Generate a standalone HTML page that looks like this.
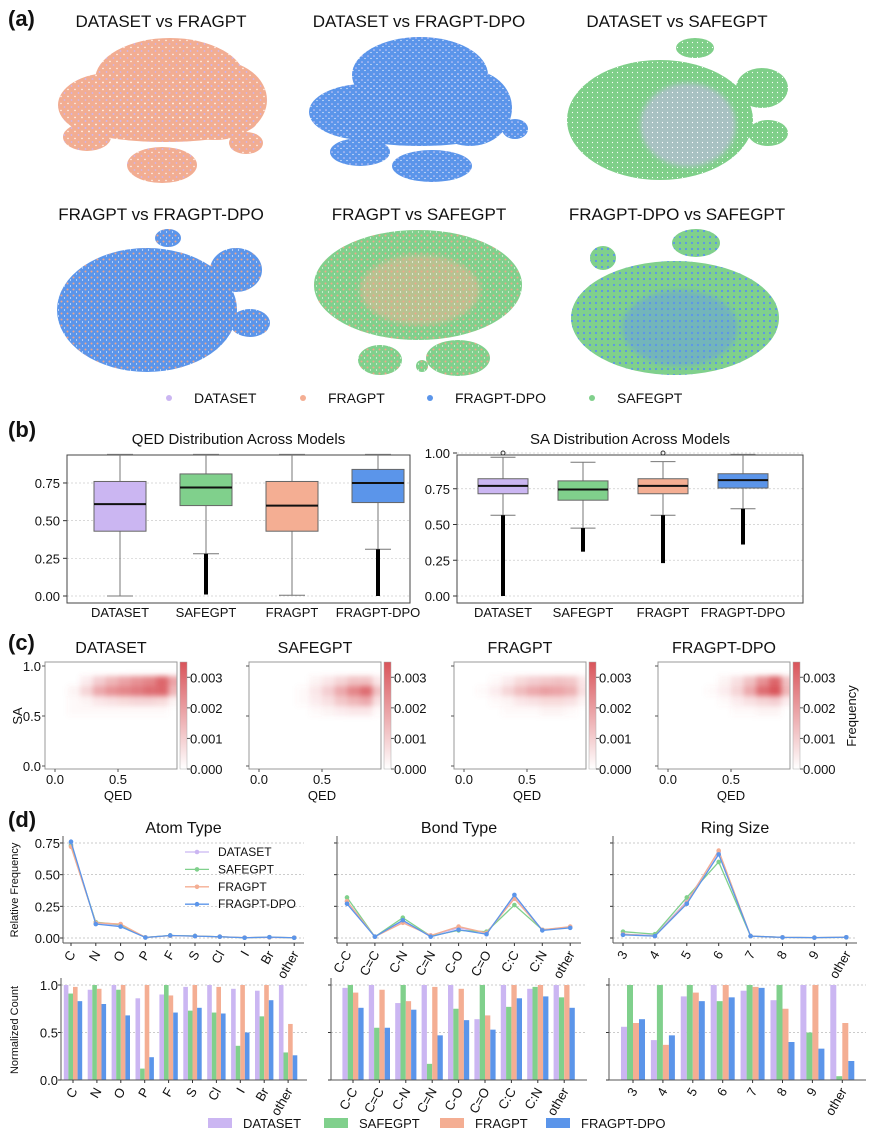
<!DOCTYPE html>
<html><head><meta charset="utf-8"><style>
html,body{margin:0;padding:0;background:#fff;}
svg{display:block;font-family:"Liberation Sans",sans-serif;}
</style></head><body>
<svg id="fig" width="870" height="1135" viewBox="0 0 870 1135" xmlns="http://www.w3.org/2000/svg">
<defs>
<filter id="blur3" x="-30%" y="-30%" width="160%" height="160%"><feGaussianBlur stdDeviation="2.6"/></filter>
<linearGradient id="cbar" x1="0" y1="1" x2="0" y2="0"><stop offset="0" stop-color="#ffffff"/><stop offset="1" stop-color="#d9545a"/></linearGradient>
<pattern id="pat-dot-lav" width="7" height="7" patternUnits="userSpaceOnUse"><circle cx="1.5" cy="2" r="0.9" fill="#cbb6f2"/><circle cx="5" cy="5.5" r="0.7" fill="#fff"/></pattern>
<pattern id="pat-blue-white" width="6" height="6" patternUnits="userSpaceOnUse"><circle cx="2" cy="2" r="0.8" fill="#d6cdf5"/><circle cx="5" cy="4.5" r="0.6" fill="#fff"/></pattern>
<pattern id="pat-orange" width="6" height="6" patternUnits="userSpaceOnUse"><circle cx="1.5" cy="1.5" r="1" fill="#f0a68a"/><circle cx="4.5" cy="4" r="0.6" fill="#fff"/></pattern>
<pattern id="pat-white" width="5" height="5" patternUnits="userSpaceOnUse"><circle cx="2.5" cy="2.5" r="0.6" fill="#fff"/></pattern>
<pattern id="pat-blue" width="6" height="6" patternUnits="userSpaceOnUse"><circle cx="2" cy="3" r="1.1" fill="#5b95ea"/></pattern>
</defs>
</svg>
<script>
// ---------- DATA ----------
const models = ['DATASET','SAFEGPT','FRAGPT','FRAGPT-DPO'];
const modelColors = ['#cbb6f2','#80d08c','#f4ae93','#5b95ea'];

// (b) box stats: q1, median, q3, whiskerLow, whiskerHigh
const qedQ1 = [0.43,0.60,0.43,0.62];
const qedMed = [0.61,0.72,0.60,0.75];
const qedQ3 = [0.76,0.81,0.76,0.84];
const qedLo = [0.0,0.28,0.005,0.31];
const qedHi = [0.94,0.94,0.94,0.94];
const qedOutLo = [null,0.01,null,0.0];
const qedOutHi = [null,0.28,null,0.31];
const qedTicks = [0,0.25,0.5,0.75];
const saQ1 = [0.715,0.67,0.715,0.755];
const saMed = [0.77,0.745,0.77,0.81];
const saQ3 = [0.82,0.805,0.82,0.855];
const saLo = [0.565,0.475,0.565,0.61];
const saHi = [0.97,0.935,0.94,0.99];
const saOutLo = [0.0,0.31,0.23,0.36];
const saOutHi = [0.565,0.475,0.565,0.61];
const saOutTop = [1.0,null,1.0,null];
const saTicks = [0,0.25,0.5,0.75,1.0];

// (c) density grids: rows SA bins (0.8-0.9,0.7-0.8,0.6-0.7,0.5-0.6), cols QED bins of 0.1
const saBins = [0.85,0.75,0.65,0.55];
const qedBins = [0.05,0.15,0.25,0.35,0.45,0.55,0.65,0.75,0.85,0.95];
const densDataset = [
 [0,0,0.0003,0.0008,0.0012,0.0015,0.0018,0.0020,0.0025,0.0015],
 [0,0.0002,0.0007,0.0014,0.0018,0.0020,0.0022,0.0024,0.0025,0.0012],
 [0,0.0001,0.0002,0.0004,0.0005,0.0006,0.0007,0.0007,0.0006,0.0002],
 [0,0.0001,0.0001,0.0001,0.0001,0.0001,0.0001,0.0001,0.0001,0]];
const densSafegpt = [
 [0,0,0,0,0.0002,0.0004,0.0007,0.0010,0.0010,0.0004],
 [0,0,0,0.0001,0.0004,0.0008,0.0014,0.0020,0.0024,0.0010],
 [0,0,0,0.0001,0.0003,0.0005,0.0009,0.0012,0.0014,0.0005],
 [0,0,0,0,0.0001,0.0002,0.0003,0.0004,0.0004,0.0001]];
const densFragpt = [
 [0,0,0.0001,0.0003,0.0006,0.0008,0.0009,0.0010,0.0009,0.0004],
 [0,0.0001,0.0003,0.0007,0.0011,0.0014,0.0016,0.0015,0.0013,0.0005],
 [0,0,0.0001,0.0002,0.0004,0.0005,0.0006,0.0006,0.0005,0.0002],
 [0,0,0,0.0001,0.0001,0.0001,0.0002,0.0002,0.0001,0]];
const densDpo = [
 [0,0,0,0,0.0002,0.0005,0.0010,0.0018,0.0025,0.0010],
 [0,0,0,0.0001,0.0003,0.0007,0.0014,0.0024,0.0030,0.0012],
 [0,0,0,0,0.0001,0.0003,0.0005,0.0007,0.0008,0.0003],
 [0,0,0,0,0,0.0001,0.0001,0.0002,0.0002,0]];
const cbarTicks = [0,0.001,0.002,0.003];

// (d) categories
const atomCats = ['C','N','O','P','F','S','Cl','I','Br','other'];
const bondCats = ['C-C','C=C','C-N','C=N','C-O','C=O','C:C','C:N','other'];
const ringCats = ['3','4','5','6','7','8','9','other'];
const atomFreq = [
 [0.74,0.12,0.10,0.005,0.02,0.015,0.01,0.003,0.005,0.002],
 [0.73,0.125,0.105,0.005,0.02,0.016,0.01,0.002,0.006,0.002],
 [0.72,0.12,0.11,0.005,0.018,0.015,0.01,0.003,0.005,0.003],
 [0.76,0.11,0.09,0.004,0.02,0.015,0.01,0.002,0.007,0.002]];
const bondFreq = [
 [0.29,0.01,0.13,0.02,0.08,0.04,0.32,0.065,0.085],
 [0.32,0.01,0.16,0.015,0.06,0.05,0.26,0.065,0.085],
 [0.29,0.01,0.12,0.02,0.09,0.04,0.31,0.065,0.09],
 [0.27,0.01,0.14,0.01,0.065,0.03,0.34,0.06,0.08]];
const ringFreq = [
 [0.03,0.02,0.29,0.68,0.015,0.005,0.003,0.005],
 [0.05,0.03,0.32,0.60,0.015,0.005,0.003,0.005],
 [0.03,0.015,0.28,0.69,0.015,0.005,0.003,0.006],
 [0.025,0.015,0.27,0.66,0.015,0.005,0.003,0.006]];
const lineTicks = [0,0.25,0.5,0.75];
const atomNorm = [
 [1.0,0.95,1.0,0.86,0.90,0.98,1.0,0.96,0.94,1.0],
 [0.91,1.0,0.95,0.12,1.0,0.73,0.71,0.36,0.67,0.29],
 [0.98,0.96,1.0,1.0,0.89,1.0,0.98,1.0,1.0,0.59],
 [0.83,0.80,0.68,0.24,0.71,0.76,0.70,0.50,0.84,0.26]];
const bondNorm = [
 [0.97,1.0,0.81,1.0,1.0,0.64,1.0,0.96,1.0],
 [1.0,0.55,1.0,0.17,0.75,1.0,0.77,0.98,0.87],
 [0.92,0.95,0.83,0.98,0.96,0.68,1.0,1.0,1.0],
 [0.76,0.55,0.74,0.47,0.63,0.53,0.86,0.88,0.76]];
const ringNorm = [
 [0.56,0.42,0.88,1.0,0.94,0.84,1.0,1.0],
 [1.0,1.0,1.0,0.83,1.0,1.0,0.50,0.04],
 [0.60,0.37,0.92,1.0,0.98,0.75,1.0,0.60],
 [0.64,0.47,0.83,0.87,0.97,0.40,0.33,0.20]];
const barTicks = [0,0.5,1.0];

// (a) t-SNE cluster outlines: [cx, cy, rx, ry]
const tsne1 = [[170,80,75,42],[110,105,52,32],[215,100,52,40],[165,122,92,20],[87,137,24,14],[162,165,35,18],[246,143,17,11]];
const tsne2 = [[420,75,68,38],[365,112,56,28],[470,108,42,38],[420,128,80,18],[360,152,30,14],[432,166,40,16],[515,129,13,10]];
const tsne3 = [[660,120,93,60],[695,48,19,10],[762,88,26,20],[768,133,20,13]];
const tsne4 = [[147,310,90,62],[168,238,13,9],[236,270,26,22],[250,323,20,14]];
const tsne5 = [[418,285,104,55],[380,360,22,15],[458,358,32,18],[422,366,6,6]];
const tsne6 = [[675,318,104,57],[696,243,24,14],[603,258,13,12]];

// ---------- HELPERS ----------
const NS='http://www.w3.org/2000/svg';
const svg=document.getElementById('fig');
function mk(tag,attrs,parent){const e=document.createElementNS(NS,tag);for(const k in attrs)e.setAttribute(k,attrs[k]);(parent||svg).appendChild(e);return e;}
function txt(s,x,y,size,anchor,parent,extra){const e=mk('text',Object.assign({x:x,y:y,'font-size':size,'text-anchor':anchor||'middle',fill:'#111'},extra||{}),parent);e.textContent=s;return e;}
function grp(parent){return mk('g',{},parent);}

[['(a)',26],['(b)',437],['(c)',650],['(d)',827]].forEach(function(p){
  const t=txt(p[0],8,p[1],22,'start',svg,{'font-weight':'bold'});
  
  
});

// ---------- (a) ----------
const tsneSpecs=[
 {title:'DATASET vs FRAGPT',cx:161,ty:27,cl:tsne1,base:'#f2ad92',pat:'pat-dot-lav',patch:null},
 {title:'DATASET vs FRAGPT-DPO',cx:419,ty:27,cl:tsne2,base:'#5b95ea',pat:'pat-blue-white',patch:null},
 {title:'DATASET vs SAFEGPT',cx:677,ty:27,cl:tsne3,base:'#7fcf89',pat:'pat-white',patch:[688,125,48,42,'#cbb6f2']},
 {title:'FRAGPT vs FRAGPT-DPO',cx:161,ty:220,cl:tsne4,base:'#5b95ea',pat:'pat-orange',patch:null},
 {title:'FRAGPT vs SAFEGPT',cx:419,ty:220,cl:tsne5,base:'#80d08c',pat:'pat-orange',patch:[420,290,60,35,'#e7b796']},
 {title:'FRAGPT-DPO vs SAFEGPT',cx:677,ty:220,cl:tsne6,base:'#80d08c',pat:'pat-blue',patch:[680,328,58,38,'#6b9fe0']}];
tsneSpecs.forEach(function(sp){
  const g=grp(svg);
  
  
  const t=txt(sp.title,sp.cx,sp.ty,17,'middle',g);
  
  
  sp.cl.forEach(function(c){
    const e=mk('ellipse',{cx:c[0],cy:c[1],rx:c[2],ry:c[3],fill:sp.base},g);
    
    
  });
  if(sp.patch){const p=mk('ellipse',{cx:sp.patch[0],cy:sp.patch[1],rx:sp.patch[2],ry:sp.patch[3],fill:sp.patch[4],opacity:0.55,filter:'url(#blur3)'},g);
    
    }
  sp.cl.forEach(function(c){
    const e=mk('ellipse',{cx:c[0],cy:c[1],rx:c[2],ry:c[3],fill:'url(#'+sp.pat+')'},g);
    
    
  });
});
const legA=[['DATASET',169,'#cbb6f2'],['FRAGPT',303,'#f4ae93'],['FRAGPT-DPO',430,'#5b95ea'],['SAFEGPT',592,'#80d08c']];
legA.forEach(function(l){
  const g=grp(svg);
  
  
  mk('circle',{cx:l[1],cy:398,r:3,fill:l[2]},g);
  txt(l[0],l[1]+25,403,14,'start',g);
});

// ---------- (b) ----------
function boxPanel(o){
  const g=grp(svg);
  
  
  const y=v=>o.y0-(v)*o.ppu;
  const tt=txt(o.title,(o.x0+o.x1)/2,444,15,'middle',g);
  
  
  o.ticks.forEach(function(v){
    mk('line',{x1:o.x0,x2:o.x1,y1:y(v),y2:y(v),stroke:'#ccc','stroke-width':0.7,'stroke-dasharray':'2,2'},g);
    mk('line',{x1:o.x0-4,x2:o.x0,y1:y(v),y2:y(v),stroke:'#333'},g);
    const l=txt(v.toFixed(2),o.x0-7,y(v)+5,13,'end',g);
    
    
  });
  mk('rect',{x:o.x0,y:455,width:o.x1-o.x0,height:148,fill:'none',stroke:'#444','stroke-width':1},g);
  models.forEach(function(m,i){
    const cx=o.cx0+i*o.dx, hw=o.bw/2;
    const b=grp(g);
    
    
    mk('line',{x1:cx,x2:cx,y1:y(o.hi[i]),y2:y(o.q3[i]),stroke:'#777'},b);
    mk('line',{x1:cx,x2:cx,y1:y(o.q1[i]),y2:y(o.lo[i]),stroke:'#777'},b);
    mk('line',{x1:cx-hw/2,x2:cx+hw/2,y1:y(o.hi[i]),y2:y(o.hi[i]),stroke:'#777'},b);
    mk('line',{x1:cx-hw/2,x2:cx+hw/2,y1:y(o.lo[i]),y2:y(o.lo[i]),stroke:'#777'},b);
    if(o.outLo[i]!==null){
      mk('line',{x1:cx,x2:cx,y1:y(o.outLo[i]),y2:y(o.outHi[i]),stroke:'#000','stroke-width':4},b);
    }
    if(o.outTop && o.outTop[i]!==null){
      mk('circle',{cx:cx,cy:y(o.outTop[i]),r:2,fill:'none',stroke:'#333'},b);
    }
    mk('rect',{x:cx-hw,y:y(o.q3[i]),width:o.bw,height:y(o.q1[i])-y(o.q3[i]),fill:modelColors[i],stroke:'#666'},b);
    mk('line',{x1:cx-hw,x2:cx+hw,y1:y(o.med[i]),y2:y(o.med[i]),stroke:'#111','stroke-width':2},b);
    const l=txt(m,cx,617,13,'middle',g);
    
    
  });
}
boxPanel({name:'qed-box-chart',title:'QED Distribution Across Models',x0:67,x1:410,y0:596,ppu:150.7,cx0:120,dx:86,bw:52,
  q1:qedQ1,med:qedMed,q3:qedQ3,lo:qedLo,hi:qedHi,outLo:qedOutLo,outHi:qedOutHi,outTop:null,ticks:qedTicks});
boxPanel({name:'sa-box-chart',title:'SA Distribution Across Models',x0:457,x1:803,y0:596,ppu:143,cx0:503,dx:80,bw:50,
  q1:saQ1,med:saMed,q3:saQ3,lo:saLo,hi:saHi,outLo:saOutLo,outHi:saOutHi,outTop:saOutTop,ticks:saTicks});

// ---------- (c) ----------
const heatSpecs=[['DATASET',45,densDataset],['SAFEGPT',249,densSafegpt],['FRAGPT',454,densFragpt],['FRAGPT-DPO',658,densDpo]];
const vmax=0.0035;
heatSpecs.forEach(function(h,pi){
  const x0=h[1], x1=x0+132, top=662, bot=769;
  const qx=v=>x0+10+v*126, sy=v=>766-v*100;
  const g=grp(svg);
  
  
  const t=txt(h[0],(x0+x1)/2,653,16,'middle',g);
  
  
  const clip=mk('clipPath',{id:'hc'+pi},g);
  mk('rect',{x:x0,y:top,width:x1-x0,height:bot-top},clip);
  const cells=mk('g',{'clip-path':'url(#hc'+pi+')'},g);
  const blurG=mk('g',{filter:'url(#blur3)'},cells);
  h[2].forEach(function(row,r){row.forEach(function(v,c){
    if(v<=0)return;
    const cell=mk('rect',{x:qx(qedBins[c]-0.05),y:sy(saBins[r]+0.05),width:12.6,height:10,fill:'#d9545a','fill-opacity':Math.min(1,1.25*v/vmax)},blurG);
    
    
  });});
  mk('rect',{x:x0,y:top,width:x1-x0,height:bot-top,fill:'none',stroke:'#999'},g);
  [0,0.5,1.0].forEach(function(v){
    mk('line',{x1:x0-3,x2:x0,y1:sy(v),y2:sy(v),stroke:'#555'},g);
    if(pi===0){const l=txt(v.toFixed(1),x0-4,sy(v)+5,13,'end',g);
      
      }
  });
  [0,0.5].forEach(function(v){
    mk('line',{x1:qx(v),x2:qx(v),y1:bot,y2:bot+3,stroke:'#555'},g);
    const l=txt(v.toFixed(1),qx(v),784,13,'middle',g);
    
    
  });
  const xl=txt('QED',qx(0.5),800,13,'middle',g);
  
  
  const cb=mk('rect',{x:x1+3,y:top,width:7,height:bot-top,fill:'url(#cbar)',stroke:'#aaa','stroke-width':0.5},g);
  
  
  cbarTicks.forEach(function(v){
    const yy=bot-v/vmax*(bot-top);
    mk('line',{x1:x1+10,x2:x1+13,y1:yy,y2:yy,stroke:'#555'},g);
    const l=txt(v.toFixed(3),x1+13,yy+5,13,'start',g);
    
    
  });
  if(pi===0){const yl=txt('SA',22,716,13,'middle',g,{transform:'rotate(-90 22 716)'});
    
    }
  if(pi===3){const fl=txt('Frequency',856,716,13,'middle',g,{transform:'rotate(-90 856 716)'});
    
    }
});

// ---------- (d) ----------
function rotLabel(s,x,y,g){
  const l=txt(s,x,y,13,'end',g,{transform:'rotate(-60 '+x+' '+y+')'});
  
  
}
function lineChart(o){
  const g=grp(svg);
  
  
  const y=v=>938-v*126.7, x=i=>o.cx0+i*o.dx;
  const t=txt(o.title,(o.x0+o.x1)/2,833,16,'middle',g);
  
  
  lineTicks.forEach(function(v){
    mk('line',{x1:o.x0,x2:o.x1,y1:y(v),y2:y(v),stroke:'#bbb','stroke-width':0.7,'stroke-dasharray':'2,2'},g);
    mk('line',{x1:o.x0-3,x2:o.x0,y1:y(v),y2:y(v),stroke:'#333'},g);
    if(o.labels){const l=txt(v.toFixed(2),o.x0-3,y(v)+5,13,'end',g);
      
      }
  });
  mk('line',{x1:o.x0,x2:o.x0,y1:836,y2:943,stroke:'#555'},g);
  mk('line',{x1:o.x0,x2:o.x1,y1:943,y2:943,stroke:'#555'},g);
  o.cats.forEach(function(c,i){mk('line',{x1:x(i),x2:x(i),y1:943,y2:946,stroke:'#333'},g);rotLabel(c,x(i)+5,954,g);});
  o.data.forEach(function(series,si){
    const pts=series.map((v,i)=>x(i)+','+y(v)).join(' ');
    const pl=mk('polyline',{points:pts,fill:'none',stroke:modelColors[si],'stroke-width':1.3},g);
    
    
    series.forEach(function(v,i){
      const c=mk('circle',{cx:x(i),cy:y(v),r:2.3,fill:modelColors[si]},g);
      
      
    });
  });
}
lineChart({name:'atom-type-line-chart',title:'Atom Type',x0:63,x1:304,cx0:71,dx:24.8,cats:atomCats,data:atomFreq,labels:true});
lineChart({name:'bond-type-line-chart',title:'Bond Type',x0:337,x1:581,cx0:347,dx:27.9,cats:bondCats,data:bondFreq,labels:false});
lineChart({name:'ring-size-line-chart',title:'Ring Size',x0:613,x1:857,cx0:623,dx:31.9,cats:ringCats,data:ringFreq,labels:false});
const yl1=txt('Relative Frequency',18,890,11,'middle',svg,{transform:'rotate(-90 18 890)'});


models.forEach(function(m,i){
  const g=grp(svg);
  
  
  const yy=852+i*17.4;
  mk('line',{x1:185,x2:209,y1:yy,y2:yy,stroke:modelColors[i],'stroke-width':1.3},g);
  mk('circle',{cx:197,cy:yy,r:2.3,fill:modelColors[i]},g);
  txt(m,218,yy+4,12,'start',g);
});

function barChart(o){
  const g=grp(svg);
  
  
  const y=v=>1080-v*95, x=i=>o.cx0+i*o.dx;
  barTicks.forEach(function(v){
    if(v>0)mk('line',{x1:o.x0,x2:o.x1,y1:y(v),y2:y(v),stroke:'#bbb','stroke-width':0.7,'stroke-dasharray':'2,2'},g);
    mk('line',{x1:o.x0-3,x2:o.x0,y1:y(v),y2:y(v),stroke:'#333'},g);
    if(o.labels){const l=txt(v.toFixed(1),o.x0-3,y(v)+5,13,'end',g);
      
      }
  });
  o.data.forEach(function(series,si){
    series.forEach(function(v,i){
      const bx=x(i)-2*o.bw+si*o.bw;
      const r=mk('rect',{x:bx,y:y(v),width:o.bw,height:v*95,fill:modelColors[si]},g);
      
      
    });
  });
  mk('line',{x1:o.x0,x2:o.x0,y1:978,y2:1080,stroke:'#555'},g);
  mk('line',{x1:o.x0,x2:o.x1,y1:1080,y2:1080,stroke:'#555'},g);
  o.cats.forEach(function(c,i){mk('line',{x1:x(i),x2:x(i),y1:1080,y2:1083,stroke:'#333'},g);rotLabel(c,x(i)+5,1091,g);});
}
barChart({name:'atom-type-bar-chart',x0:61,x1:307,cx0:73,dx:23.9,bw:4.6,cats:atomCats,data:atomNorm,labels:true});
barChart({name:'bond-type-bar-chart',x0:331,x1:587,cx0:353,dx:26.4,bw:5.3,cats:bondCats,data:bondNorm,labels:false});
barChart({name:'ring-size-bar-chart',x0:609,x1:866,cx0:633,dx:29.9,bw:6,cats:ringCats,data:ringNorm,labels:false});
const yl2=txt('Normalized Count',18,1030,11,'middle',svg,{transform:'rotate(-90 18 1030)'});


const legD=[208,324,440,546];
models.forEach(function(m,i){
  const g=grp(svg);
  
  
  mk('rect',{x:legD[i],y:1118,width:24,height:10,fill:modelColors[i]},g);
  txt(m,legD[i]+35,1128,13,'start',g);
});
</script>
</body></html>
